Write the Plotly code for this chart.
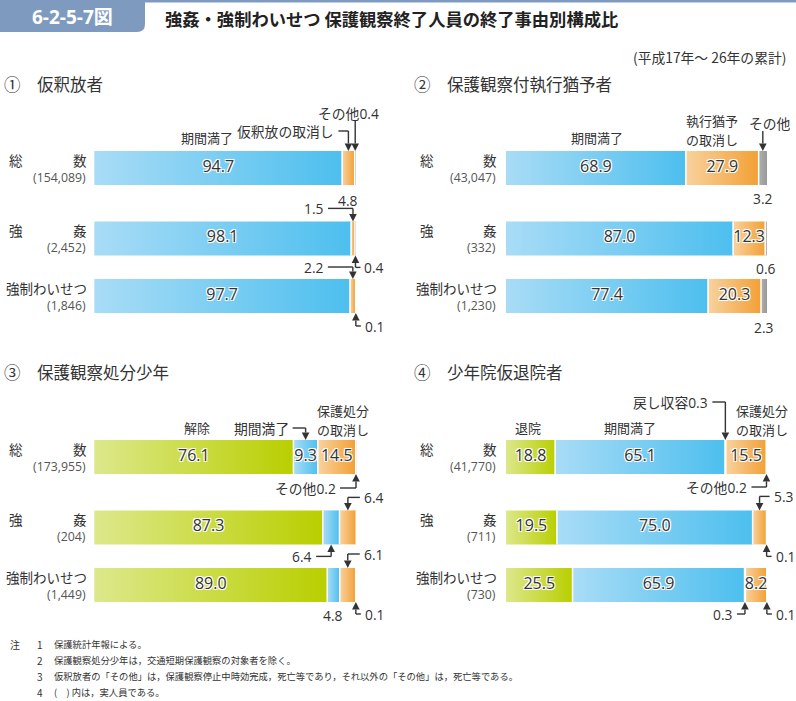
import plotly.graph_objects as go

W, H = 796, 701

# ---------------- data ----------------
panel_titles = ["①　仮釈放者", "②　保護観察付執行猶予者", "③　保護観察処分少年", "④　少年院仮退院者"]
row_left = ["総", "強", ""]
row_right = ["数", "姦", "強制わいせつ"]

p1_categories = ["期間満了", "仮釈放の取消し", "その他"]
p1_counts = ["154,089", "2,452", "1,846"]
p1_kikan = [94.7, 98.1, 97.7]
p1_torikeshi = [4.8, 1.5, 2.2]
p1_sonota = [0.4, 0.4, 0.1]

p2_categories = ["期間満了", "執行猶予の取消し", "その他"]
p2_counts = ["43,047", "332", "1,230"]
p2_kikan = [68.9, 87.0, 77.4]
p2_torikeshi = [27.9, 12.3, 20.3]
p2_sonota = [3.2, 0.6, 2.3]

p3_categories = ["解除", "期間満了", "保護処分の取消し", "その他"]
p3_counts = ["173,955", "204", "1,449"]
p3_kaijo = [76.1, 87.3, 89.0]
p3_kikan = [9.3, 6.4, 4.8]
p3_torikeshi = [14.5, 6.4, 6.1]
p3_sonota = [0.2, 0.0, 0.1]

p4_categories = ["退院", "期間満了", "戻し収容", "保護処分の取消し", "その他"]
p4_counts = ["41,770", "711", "730"]
p4_taiin = [18.8, 19.5, 25.5]
p4_kikan = [65.1, 75.0, 65.9]
p4_modoshi = [0.3, 0.0, 0.3]
p4_torikeshi = [15.5, 5.3, 8.2]
p4_sonota = [0.2, 0.1, 0.1]

notes = [
    "保護統計年報による。",
    "保護観察処分少年は，交通短期保護観察の対象者を除く。",
    "仮釈放者の「その他」は，保護観察停止中時効完成，死亡等であり，それ以外の「その他」は，死亡等である。",
    "(　) 内は，実人員である。",
]

panels = [
    (p1_categories, p1_counts, [p1_kikan, p1_torikeshi, p1_sonota]),
    (p2_categories, p2_counts, [p2_kikan, p2_torikeshi, p2_sonota]),
    (p3_categories, p3_counts, [p3_kaijo, p3_kikan, p3_torikeshi, p3_sonota]),
    (p4_categories, p4_counts, [p4_taiin, p4_kikan, p4_modoshi, p4_torikeshi, p4_sonota]),
]

# ---------------- layout / style ----------------
TXT = "#333333"
GRAYTXT = "#555555"
HEADBLUE = "#7e9bbf"
JP = "Noto Sans CJK JP"
NUM = "Open Sans, Noto Sans CJK JP"

BLUE = ("#a9dcf6", "#4dbfee")
ORANGE = ("#f9d29e", "#f2a035")
GREEN = ("#dde88c", "#b9cf00")
GRAY = ("#b0b0b0", "#989898")


def seg_color(name):
    if name in ("解除", "退院"):
        return GREEN
    if name == "期間満了":
        return BLUE
    if name.endswith("取消し"):
        return ORANGE
    return GRAY


# panel geometry (pixels)
GEOM = [
    dict(px0=94.3, pxs=2.617, dom=(0, 400), py0=168, ydom=(100, 340), lx=7, rx=89, tx=2, ty=84),
    dict(px0=506.0, pxs=2.61, dom=(400, 796), py0=168, ydom=(100, 340), lx=418, rx=499, tx=412, ty=84),
    dict(px0=94.3, pxs=2.617, dom=(0, 400), py0=457, ydom=(389, 629), lx=7, rx=89, tx=2, ty=372),
    dict(px0=506.0, pxs=2.61, dom=(400, 796), py0=457, ydom=(389, 629), lx=418, rx=499, tx=412, ty=372),
]
ROW_PX = 64.0
ROWS = [0.0, 1.1, 2.0]
BAR_HALF = 17.0 / ROW_PX
HEAD_L = 7.5   # arrowhead length, px
HEAD_W = 3.8   # arrowhead half width, px
LW = 1.4


def X(px):
    return px / W


def Y(py):
    return 1 - py / H


fig = go.Figure()
annotations = []
shapes = []

SHADOW = "1px 1px 0px #fff, -1px -1px 0px #fff, 1px -1px 0px #fff, -1px 1px 0px #fff, 0px 0px 2px #fff"

for p, (cats, counts, series) in enumerate(panels):
    g = GEOM[p]
    xa = "x" if p == 0 else f"x{p+1}"
    ya = "y" if p == 0 else f"y{p+1}"
    sep_x, sep_y = [], []
    tx, ty, tt = [], [], []
    for r in range(3):
        vals = [s[r] for s in series]
        yc = ROWS[r]
        start = 0.0
        for i, v in enumerate(vals):
            end = start + v
            if v > 0:
                light, dark = seg_color(cats[i])
                fig.add_trace(go.Scatter(
                    x=[start, end, end, start, start],
                    y=[yc - BAR_HALF, yc - BAR_HALF, yc + BAR_HALF, yc + BAR_HALF, yc - BAR_HALF],
                    mode="lines", fill="toself", line=dict(width=0, color=dark),
                    fillgradient=dict(type="horizontal", colorscale=[[0, light], [1, dark]]),
                    hoverinfo="skip", showlegend=False, xaxis=xa, yaxis=ya,
                ))
                if v >= 8:
                    tx.append((start + end) / 2)
                    ty.append(yc)
                    tt.append(f"{v:.1f}")
            if i < len(vals) - 1 and v > 0:
                sep_x += [end, end, None]
                sep_y += [yc - BAR_HALF, yc + BAR_HALF, None]
            start = end
    fig.add_trace(go.Scatter(x=sep_x, y=sep_y, mode="lines", line=dict(color="white", width=1.5),
                             hoverinfo="skip", showlegend=False, xaxis=xa, yaxis=ya))
    fig.add_trace(go.Scatter(x=tx, y=ty, text=tt, mode="text",
                             textfont=dict(family=NUM, size=16, color=TXT, shadow=SHADOW),
                             hoverinfo="skip", showlegend=False, xaxis=xa, yaxis=ya))

    # panel title
    annotations.append(dict(xref="paper", yref="paper", x=X(g["tx"]), y=Y(g["ty"]), xanchor="left",
                            yanchor="middle", text=panel_titles[p], showarrow=False,
                            font=dict(family=JP, size=16.5, color=TXT)))
    # row labels
    for r in range(3):
        cy = g["py0"] + ROWS[r] * ROW_PX
        if row_left[r]:
            annotations.append(dict(xref="paper", yref="paper", x=X(g["lx"]), y=Y(cy - 8), xanchor="left",
                                    yanchor="middle", text=row_left[r], showarrow=False,
                                    font=dict(family=JP, size=13.5, color=TXT)))
        annotations.append(dict(xref="paper", yref="paper", x=X(g["rx"]), y=Y(cy - 8), xanchor="right",
                                yanchor="middle", text=row_right[r], showarrow=False,
                                font=dict(family=JP, size=13.5, color=TXT)))
        annotations.append(dict(xref="paper", yref="paper", x=X(g["rx"] - 1), y=Y(cy + 9.5), xanchor="right",
                                yanchor="middle", text=f"({counts[r]})", showarrow=False,
                                font=dict(family=NUM, size=12.3, color=GRAYTXT)))

# category headers (panel, category index, px, py, wrap)
headers = [
    (0, 0, 207, 137, False),
    (1, 0, 597, 137, False),
    (1, 1, 712, 130, True),
    (2, 0, 197, 428, False),
    (2, 2, 343, 420, True),
    (3, 0, 528, 428, False),
    (3, 1, 630, 428, False),
    (3, 3, 762, 420, True),
]
for p, ci, hx, hy, wrap in headers:
    name = panels[p][0][ci]
    if wrap:
        k = name.index("の取消し")
        lines = [(name[:k], hy - 9.5), (name[k:], hy + 9.5)]
    else:
        lines = [(name, hy)]
    for txt, yy in lines:
        annotations.append(dict(xref="paper", yref="paper", x=X(hx), y=Y(yy), xanchor="center",
                                yanchor="middle", text=txt, showarrow=False,
                                font=dict(family=JP, size=13, color=TXT)))

# callouts: (panel, row, segment, side, kind, show name, show value, hx px, ly px)
callouts = [
    (0, 0, 1, "above", "elbow", True, False, -10, 20),
    (0, 0, 2, "above", "straight", True, True, -7, 30),
    (0, 0, 1, "below", "text", False, True, 0, 15),
    (0, 1, 1, "above", "elbow", False, True, -25, 13),
    (0, 1, 2, "below", "elbow", False, True, 5, 12),
    (0, 2, 1, "above", "elbow", False, True, -25, 12),
    (0, 2, 2, "below", "elbow", False, True, 5, 13),
    (1, 0, 2, "above", "straight", True, False, 7, 20),
    (1, 0, 2, "below", "text", False, True, 0, 13),
    (1, 1, 2, "below", "text", False, True, 0, 13),
    (1, 2, 2, "below", "text", False, True, 0, 14),
    (2, 0, 1, "above", "elbow", True, False, -13, 12),
    (2, 0, 3, "below", "elbow", True, True, -16, 14),
    (2, 1, 2, "above", "elbow", False, True, 12, 13),
    (2, 1, 1, "below", "elbow", False, True, -15, 12),
    (2, 2, 2, "above", "elbow", False, True, 12, 14),
    (2, 2, 1, "below", "text", False, True, 0, 13),
    (2, 2, 3, "below", "elbow", False, True, 5, 12),
    (3, 0, 2, "above", "elbow", True, True, -13, 38),
    (3, 0, 4, "below", "elbow", True, True, -15, 13),
    (3, 1, 3, "above", "elbow", False, True, 10, 14),
    (3, 1, 4, "below", "elbow", False, True, 5, 12),
    (3, 2, 2, "below", "elbow", False, True, -8, 12),
    (3, 2, 4, "below", "elbow", False, True, 5, 12),
]
for p, r, si, side, kind, show_name, show_val, hx, ly in callouts:
    cats, counts, series = panels[p]
    g = GEOM[p]
    xa = "x" if p == 0 else f"x{p+1}"
    ya = "y" if p == 0 else f"y{p+1}"
    vals = [s[r] for s in series]
    v = vals[si]
    cx = sum(vals[:si]) + v / 2
    sgn = -1 if side == "above" else 1
    edge = ROWS[r] + sgn * BAR_HALF
    label = (cats[si] if show_name else "") + (f"{v:.1f}" if show_val else "")
    dxu = 1.0 / g["pxs"]
    dyu = 1.0 / ROW_PX
    if kind == "text":
        annotations.append(dict(xref=xa, yref=ya, x=cx + hx * dxu, y=edge + sgn * ly * dyu, text=label,
                                showarrow=False, xanchor="center", yanchor="middle",
                                font=dict(family=NUM, size=13.8, color=TXT)))
        continue
    tail_y = edge + sgn * ly * dyu
    base_y = edge + sgn * HEAD_L * dyu
    # stem
    shapes.append(dict(type="line", xref=xa, yref=ya, x0=cx, x1=cx, y0=tail_y, y1=base_y,
                       line=dict(color=TXT, width=LW)))
    # arrowhead
    shapes.append(dict(type="path", xref=xa, yref=ya,
                       path=(f"M {cx - HEAD_W * dxu},{base_y} L {cx + HEAD_W * dxu},{base_y} "
                             f"L {cx},{edge} Z"),
                       fillcolor=TXT, line=dict(width=0)))
    if kind == "straight":
        annotations.append(dict(xref=xa, yref=ya, x=cx + hx * dxu, y=tail_y + sgn * 7 * dyu, text=label,
                                showarrow=False, xanchor="center", yanchor="middle",
                                font=dict(family=NUM, size=13.8, color=TXT)))
    else:
        shapes.append(dict(type="line", xref=xa, yref=ya, x0=cx, x1=cx + hx * dxu, y0=tail_y, y1=tail_y,
                           line=dict(color=TXT, width=LW)))
        gap = 2 if hx > 0 else -2
        annotations.append(dict(xref=xa, yref=ya, x=cx + (hx + gap) * dxu, y=tail_y, text=label,
                                showarrow=False, xanchor="left" if hx > 0 else "right", yanchor="middle",
                                font=dict(family=NUM, size=13.8, color=TXT)))

# header box and title
shapes.append(dict(type="path", xref="paper", yref="paper",
                   path=(f"M {X(0)},{Y(0)} L {X(145)},{Y(0)} L {X(145)},{Y(24)} "
                         f"Q {X(145)},{Y(32)} {X(137)},{Y(32)} L {X(0)},{Y(32)} Z"),
                   fillcolor=HEADBLUE, line=dict(width=0)))
shapes.append(dict(type="line", xref="paper", yref="paper", x0=X(140), x1=X(796), y0=Y(1.2), y1=Y(1.2),
                   line=dict(color=HEADBLUE, width=2.5)))
annotations.append(dict(xref="paper", yref="paper", x=X(72), y=Y(17), xanchor="center", yanchor="middle",
                        text="<b>6-2-5-7図</b>", showarrow=False,
                        font=dict(family=NUM, size=19, color="white")))
annotations.append(dict(xref="paper", yref="paper", x=X(163), y=Y(19), xanchor="left", yanchor="middle",
                        text="<b>強姦・強制わいせつ 保護観察終了人員の終了事由別構成比</b>", showarrow=False,
                        font=dict(family=JP, size=17.3, color="#222222")))
annotations.append(dict(xref="paper", yref="paper", x=X(788), y=Y(57), xanchor="right", yanchor="middle",
                        text="(平成17年～ 26年の累計)", showarrow=False,
                        font=dict(family=JP, size=13.8, color=TXT)))

# notes
annotations.append(dict(xref="paper", yref="paper", x=X(8), y=Y(644), xanchor="left", yanchor="middle",
                        text="注", showarrow=False, font=dict(family=JP, size=10, color=TXT)))
for i, n in enumerate(notes):
    yy = 644 + 16 * i
    annotations.append(dict(xref="paper", yref="paper", x=X(40), y=Y(yy), xanchor="center", yanchor="middle",
                            text=str(i + 1), showarrow=False, font=dict(family=JP, size=10, color=TXT)))
    annotations.append(dict(xref="paper", yref="paper", x=X(52), y=Y(yy), xanchor="left", yanchor="middle",
                            text=n, showarrow=False, font=dict(family=JP, size=9.3, color=TXT)))

layout = dict(width=W, height=H, autosize=False, margin=dict(l=0, r=0, t=0, b=0),
              paper_bgcolor="white", plot_bgcolor="rgba(0,0,0,0)", showlegend=False,
              annotations=annotations, shapes=shapes)
for p, g in enumerate(GEOM):
    sfx = "" if p == 0 else str(p + 1)
    x_lo = (g["dom"][0] - g["px0"]) / g["pxs"]
    x_hi = (g["dom"][1] - g["px0"]) / g["pxs"]
    y_top = (g["ydom"][0] - g["py0"]) / ROW_PX
    y_bot = (g["ydom"][1] - g["py0"]) / ROW_PX
    layout["xaxis" + sfx] = dict(domain=[X(g["dom"][0]), X(g["dom"][1])], range=[x_lo, x_hi],
                                 visible=False, fixedrange=True, anchor="y" + sfx)
    layout["yaxis" + sfx] = dict(domain=[Y(g["ydom"][1]), Y(g["ydom"][0])], range=[y_bot, y_top],
                                 visible=False, fixedrange=True, anchor="x" + sfx)
fig.update_layout(**layout)
fig.write_html("out.html")
